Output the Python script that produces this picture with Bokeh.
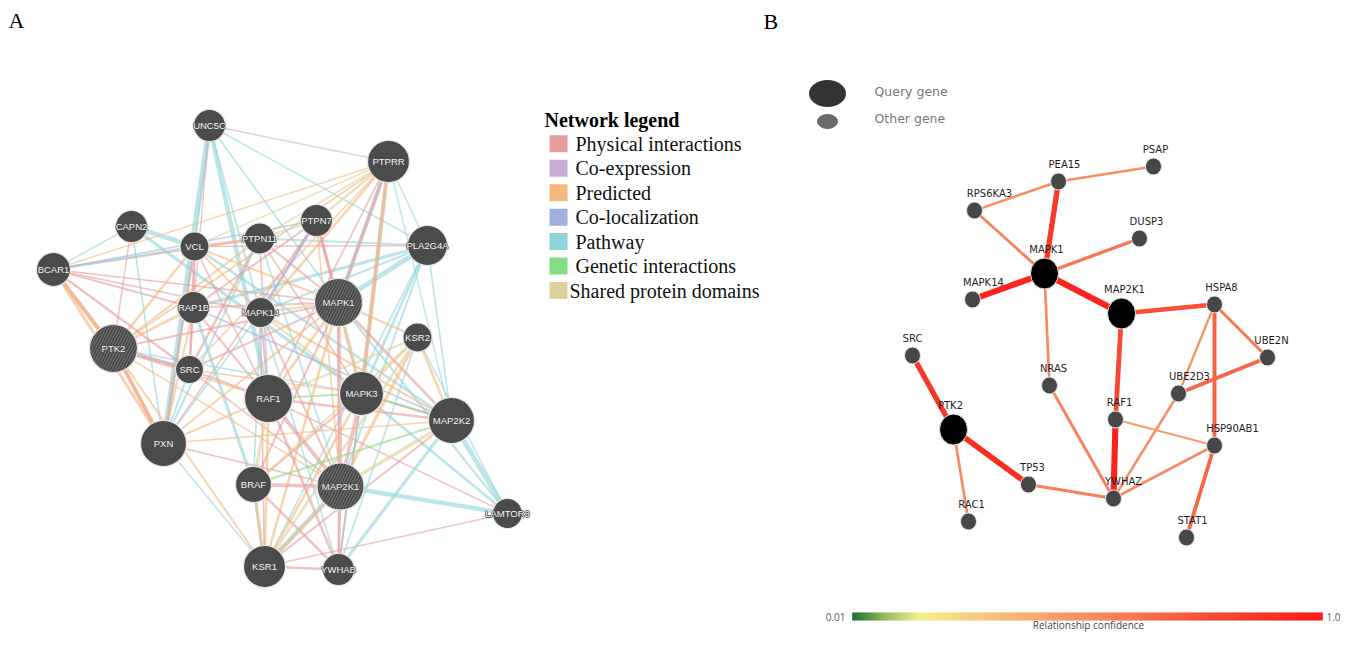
from bokeh.plotting import figure
from bokeh.models import ColumnDataSource, Range1d
from bokeh.transform import linear_cmap, factor_cmap
from bokeh.core.properties import value
from bokeh.embed import file_html
from bokeh.resources import INLINE
import numpy as np

# ---------------- Panel A data (GeneMANIA network) ----------------
a_genes = ["UNC5C", "PTPRR", "CAPN2", "VCL", "PTPN11", "PTPN7", "PLA2G4A", "BCAR1",
           "RAP1B", "MAPK14", "MAPK1", "KSR2", "PTK2", "SRC", "RAF1", "MAPK3",
           "MAP2K2", "PXN", "BRAF", "MAP2K1", "LAMTOR3", "KSR1", "YWHAB"]
a_x = [209, 388, 131, 194, 259, 316, 427, 53, 193, 260, 338, 417, 113, 189, 268, 361,
       451, 163, 253, 340, 507, 264, 338]
a_y = [125, 161, 226, 246, 238, 220, 245, 269, 307, 312, 302, 337, 348, 369, 398, 393,
       420, 443, 484, 486, 513, 566, 569]
a_r = [16, 21, 16, 14.5, 15.5, 16, 20, 17, 16, 15, 24, 14.5, 24, 14, 24, 22,
       23, 23, 18, 23.5, 15, 21, 16]
a_query = ["MAPK1", "PTK2", "MAP2K1"]

net_types = ["Physical interactions", "Co-expression", "Predicted", "Co-localization",
             "Pathway", "Genetic interactions", "Shared protein domains"]
net_colors = ["#e89c9c", "#c8aed6", "#f5b87c", "#9fb0de", "#8fd3db", "#85dc85", "#dcd19a"]
T = dict(P=net_types[0], C=net_types[1], R=net_types[2], L=net_types[3],
         W=net_types[4], G=net_types[5], S=net_types[6])

edges_a = [
    ("UNC5C", "PXN", "W", 4.5), ("UNC5C", "RAF1", "W", 3.5), ("UNC5C", "MAPK14", "W", 1.2),
    ("UNC5C", "MAPK1", "W", 1.2), ("UNC5C", "VCL", "W", 1.2), ("UNC5C", "PTPRR", "C", 1.0),
    ("UNC5C", "PLA2G4A", "W", 1.0), ("UNC5C", "RAP1B", "P", 1.0),
    ("CAPN2", "VCL", "W", 4.0), ("CAPN2", "MAPK3", "W", 2.5), ("CAPN2", "PTK2", "P", 1.0),
    ("CAPN2", "BCAR1", "W", 1.0), ("CAPN2", "PXN", "W", 1.2),
    ("PLA2G4A", "MAPK1", "W", 4.0), ("PLA2G4A", "MAPK3", "W", 2.0), ("PLA2G4A", "RAP1B", "W", 2.5),
    ("PLA2G4A", "PTPN11", "W", 1.5), ("PLA2G4A", "KSR1", "W", 1.2), ("PLA2G4A", "MAP2K1", "W", 1.5),
    ("PLA2G4A", "MAP2K2", "W", 1.2), ("PLA2G4A", "MAPK14", "W", 1.5), ("PLA2G4A", "VCL", "P", 1.0),
    ("MAP2K2", "LAMTOR3", "W", 4.0), ("MAP2K1", "LAMTOR3", "W", 3.5), ("MAPK3", "LAMTOR3", "W", 2.0),
    ("MAPK1", "LAMTOR3", "W", 1.5), ("KSR1", "LAMTOR3", "P", 1.0), ("RAF1", "LAMTOR3", "P", 1.0),
    ("YWHAB", "MAP2K2", "W", 2.5), ("YWHAB", "MAPK3", "W", 1.5),
    ("PTPRR", "MAPK1", "W", 3.0), ("PTPRR", "MAPK3", "L", 2.5), ("PTPRR", "MAPK3", "R", 3.5),
    ("PTPRR", "MAPK1", "R", 3.0), ("PTPRR", "MAPK1", "C", 2.0), ("PTPRR", "MAPK14", "R", 2.0),
    ("PTPRR", "PLA2G4A", "W", 1.0), ("PTPRR", "MAP2K2", "W", 1.0), ("PTPRR", "PTK2", "R", 1.5),
    ("PTPRR", "BCAR1", "R", 1.0), ("PTPRR", "VCL", "S", 1.0), ("PTPRR", "PTPN7", "S", 2.0),
    ("PTPRR", "PTPN11", "S", 1.5), ("PTPRR", "SRC", "R", 1.2), ("PTPRR", "RAF1", "P", 1.2),
    ("PTPN7", "MAPK1", "P", 2.5), ("PTPN7", "MAPK3", "P", 2.0), ("PTPN7", "MAPK14", "C", 2.5),
    ("PTPN7", "MAPK14", "L", 1.5), ("PTPN7", "PTPN11", "S", 1.5), ("PTPN7", "RAP1B", "P", 1.5),
    ("PTPN7", "MAP2K1", "R", 1.2), ("PTPN7", "PXN", "P", 1.2),
    ("PTPN11", "SRC", "P", 2.0), ("PTPN11", "MAPK1", "P", 1.5), ("PTPN11", "VCL", "R", 2.0),
    ("PTPN11", "PXN", "W", 1.5), ("PTPN11", "BCAR1", "P", 1.5), ("PTPN11", "RAF1", "P", 1.2),
    ("PTPN11", "MAP2K1", "W", 1.2), ("PTPN11", "MAPK3", "P", 1.2), ("PTPN11", "PTK2", "R", 1.5),
    ("BCAR1", "PTK2", "P", 3.0), ("BCAR1", "PTK2", "R", 3.0), ("BCAR1", "SRC", "P", 2.0),
    ("BCAR1", "PXN", "R", 2.5), ("BCAR1", "RAP1B", "P", 1.5), ("BCAR1", "VCL", "W", 1.5),
    ("BCAR1", "MAPK14", "P", 1.2), ("BCAR1", "MAPK1", "P", 1.2), ("BCAR1", "PTPN7", "L", 1.0),
    ("VCL", "PXN", "P", 2.0), ("VCL", "PTK2", "R", 2.0), ("VCL", "SRC", "P", 1.5),
    ("VCL", "RAP1B", "P", 1.5), ("VCL", "MAPK1", "R", 1.5), ("VCL", "MAPK14", "R", 1.5),
    ("VCL", "MAP2K2", "W", 2.0), ("VCL", "RAF1", "P", 1.2),
    ("RAP1B", "PTK2", "R", 2.0), ("RAP1B", "SRC", "P", 1.5), ("RAP1B", "RAF1", "P", 1.5),
    ("RAP1B", "BRAF", "W", 2.5), ("RAP1B", "MAPK1", "P", 1.5), ("RAP1B", "PXN", "R", 1.5),
    ("RAP1B", "MAP2K2", "L", 1.2),
    ("PTK2", "SRC", "P", 3.0), ("PTK2", "SRC", "C", 3.0), ("PTK2", "PXN", "R", 3.5),
    ("PTK2", "PXN", "P", 2.0), ("PTK2", "MAPK1", "P", 1.5), ("PTK2", "RAF1", "R", 1.5),
    ("PTK2", "MAP2K1", "R", 1.2), ("PTK2", "KSR1", "R", 1.5), ("PTK2", "MAPK3", "W", 1.2),
    ("SRC", "PXN", "W", 1.5), ("SRC", "RAF1", "P", 1.5), ("SRC", "MAPK1", "P", 1.5),
    ("SRC", "MAP2K1", "P", 1.2), ("SRC", "MAPK3", "R", 1.2),
    ("PXN", "RAF1", "R", 1.5), ("PXN", "MAPK1", "R", 1.5), ("PXN", "MAP2K1", "P", 1.2),
    ("PXN", "KSR1", "W", 1.0), ("PXN", "MAP2K2", "R", 1.2), ("PXN", "MAPK14", "W", 1.2),
    ("MAPK14", "MAPK1", "S", 2.0), ("MAPK14", "MAPK3", "S", 1.5), ("MAPK14", "RAF1", "L", 1.5),
    ("MAPK14", "MAP2K1", "P", 1.5), ("MAPK14", "MAP2K2", "R", 1.5), ("MAPK14", "YWHAB", "W", 1.2),
    ("MAPK14", "KSR1", "P", 1.2), ("MAPK14", "BRAF", "W", 1.2),
    ("MAPK1", "MAPK3", "S", 3.0), ("MAPK1", "MAP2K1", "P", 3.0), ("MAPK1", "MAP2K2", "P", 2.0),
    ("MAPK1", "RAF1", "R", 2.0), ("MAPK1", "KSR1", "R", 2.0), ("MAPK1", "KSR2", "R", 1.5),
    ("MAPK1", "BRAF", "P", 1.5), ("MAPK1", "YWHAB", "P", 1.2),
    ("MAPK3", "MAP2K1", "P", 3.0), ("MAPK3", "MAP2K2", "P", 2.0), ("MAPK3", "RAF1", "G", 1.5),
    ("MAPK3", "KSR1", "R", 2.0), ("MAPK3", "BRAF", "P", 1.5), ("MAPK3", "YWHAB", "P", 1.2),
    ("MAPK3", "KSR2", "R", 1.5),
    ("RAF1", "MAP2K1", "P", 3.0), ("RAF1", "MAP2K2", "P", 2.0), ("RAF1", "BRAF", "S", 2.5),
    ("RAF1", "YWHAB", "P", 2.0), ("RAF1", "KSR1", "R", 2.0), ("RAF1", "KSR2", "S", 1.5),
    ("BRAF", "MAP2K1", "P", 3.0), ("BRAF", "MAP2K2", "G", 1.5), ("BRAF", "YWHAB", "P", 2.0),
    ("BRAF", "KSR1", "W", 2.0), ("BRAF", "KSR1", "R", 2.5), ("BRAF", "KSR2", "S", 1.5),
    ("MAP2K1", "MAP2K2", "S", 3.0), ("MAP2K1", "KSR1", "R", 4.0), ("MAP2K1", "KSR1", "W", 2.0),
    ("MAP2K1", "YWHAB", "P", 2.0), ("MAP2K1", "KSR2", "R", 2.5),
    ("MAP2K2", "KSR1", "P", 1.5), ("MAP2K2", "KSR2", "R", 2.0), ("MAP2K2", "MAPK3", "G", 1.2),
    ("KSR1", "KSR2", "S", 2.0), ("KSR1", "YWHAB", "P", 2.0), ("KSR2", "YWHAB", "W", 1.2),
    ("KSR2", "LAMTOR3", "W", 1.0),
]

# ---------------- Panel B data (confidence network) ----------------
b_genes = ["PSAP", "PEA15", "RPS6KA3", "DUSP3", "MAPK1", "MAPK14", "MAP2K1", "HSPA8",
           "SRC", "UBE2N", "NRAS", "UBE2D3", "RAF1", "PTK2", "HSP90AB1", "TP53",
           "YWHAZ", "RAC1", "STAT1"]
b_x = [1153, 1058, 974, 1139, 1044, 972, 1121, 1214, 912, 1267, 1049, 1178, 1115, 953,
       1214, 1028, 1113, 968, 1186]
b_y = [166, 181, 210, 238, 273, 299, 313, 304, 355, 357, 385, 393, 419, 429, 445, 484,
       498, 521, 537]
b_label_dx = [2, 6, 15, 7, 2, 11, 3, 7, 0, 4, 4, 11, 4, -3, 18, 4, 10, 3, 6]
b_query = ["MAPK1", "MAP2K1", "PTK2"]

edges_b = [
    ("PEA15", "PSAP", 0.50), ("RPS6KA3", "PEA15", 0.50), ("RPS6KA3", "MAPK1", 0.55),
    ("PEA15", "MAPK1", 0.85), ("MAPK1", "DUSP3", 0.60), ("MAPK1", "MAPK14", 0.95),
    ("MAPK1", "MAP2K1", 0.95), ("MAPK1", "NRAS", 0.52), ("MAP2K1", "HSPA8", 0.75),
    ("MAP2K1", "RAF1", 0.78), ("HSPA8", "UBE2N", 0.58), ("HSPA8", "UBE2D3", 0.48),
    ("HSPA8", "HSP90AB1", 0.68), ("UBE2N", "UBE2D3", 0.66), ("UBE2D3", "YWHAZ", 0.50),
    ("RAF1", "HSP90AB1", 0.45), ("RAF1", "YWHAZ", 0.95), ("NRAS", "YWHAZ", 0.55),
    ("HSP90AB1", "YWHAZ", 0.52), ("HSP90AB1", "STAT1", 0.66), ("SRC", "PTK2", 0.86),
    ("PTK2", "TP53", 0.90), ("PTK2", "RAC1", 0.52), ("TP53", "YWHAZ", 0.56),
]

conf_low, conf_high = 0.01, 1.0
conf_stops = [(0.0, "#1d6e2e"), (0.06, "#8db65a"), (0.14, "#f4f18c"), (0.32, "#f8b878"),
              (0.55, "#f8815a"), (0.8, "#f7432f"), (1.0, "#ff1a1a")]


def _hex(c):
    return [int(c[i:i + 2], 16) for i in (1, 3, 5)]


def _interp(t):
    for (t0, c0), (t1, c1) in zip(conf_stops[:-1], conf_stops[1:]):
        if t0 <= t <= t1:
            f = (t - t0) / (t1 - t0)
            a, b = _hex(c0), _hex(c1)
            return "#%02x%02x%02x" % tuple(int(round(a[k] + (b[k] - a[k]) * f)) for k in range(3))
    return conf_stops[-1][1]


conf_palette = [_interp(i / 255) for i in range(256)]

# ---------------- Figure ----------------
p = figure(width=1344, height=632, x_range=Range1d(0, 1344), y_range=Range1d(632, 0),
           x_axis_location=None, y_axis_location=None, toolbar_location=None,
           output_backend="svg", min_border=0, outline_line_color=None)
p.grid.grid_line_color = None
p.background_fill_color = "white"

serif = value("Liberation Serif")
sans = value("Liberation Sans")

# Panel letters
p.text(x=[8, 763], y=[20, 21], text=["A", "B"], text_font=serif, text_font_size="22px",
       text_color="black", text_align="left", text_baseline="middle")

# ---- Panel A edges
ia = {g: i for i, g in enumerate(a_genes)}
src_a = ColumnDataSource(dict(
    x0=[a_x[ia[s]] for s, t, k, w in edges_a], y0=[a_y[ia[s]] for s, t, k, w in edges_a],
    x1=[a_x[ia[t]] for s, t, k, w in edges_a], y1=[a_y[ia[t]] for s, t, k, w in edges_a],
    etype=[T[k] for s, t, k, w in edges_a], w=[w * 1.15 + 0.3 for s, t, k, w in edges_a]))
p.segment(x0="x0", y0="y0", x1="x1", y1="y1", source=src_a, line_width="w", line_alpha=0.6,
          line_color=factor_cmap("etype", net_colors, net_types))

# ---- Panel A nodes
node_a = ColumnDataSource(dict(x=a_x, y=a_y, r=a_r, g=a_genes))
p.circle(x="x", y="y", radius="r", source=node_a, fill_color="#4b4b4b",
         line_color="#e6e6e6", line_width=1.2)
qa = [ia[g] for g in a_query]
p.circle(x=[a_x[i] for i in qa], y=[a_y[i] for i in qa], radius=[a_r[i] for i in qa],
         fill_color="#4b4b4b", line_color="#e6e6e6", line_width=1.2,
         hatch_pattern="/", hatch_color="#7a7a7a", hatch_scale=6, hatch_weight=1, hatch_alpha=0.8)
# dark halo behind the white node labels
for dx, dy in [(-0.8, 0), (0.8, 0), (0, -0.8), (0, 0.8)]:
    p.text(x=[x + dx for x in a_x], y=[y + dy for y in a_y], text=a_genes, text_font=sans,
           text_font_size="9.5px", text_color="#4a4a4a", text_align="center",
           text_baseline="middle")
p.text(x="x", y="y", text="g", source=node_a, text_font=sans, text_font_size="9.5px",
       text_color="#f4f4f4", text_align="center", text_baseline="middle")

# ---- Panel A legend
leg_y0, leg_dy = 143.3, 24.45
leg_y = [leg_y0 + leg_dy * i for i in range(len(net_types))]
p.text(x=[544], y=[119], text=["Network legend"], text_font=serif, text_font_size="20px",
       text_font_style="bold", text_color="black", text_align="left", text_baseline="middle")
p.rect(x=[558] * len(net_types), y=leg_y, width=18, height=17, fill_color=net_colors,
       line_color=None)
p.text(x=[575] * 6 + [569], y=leg_y, text=net_types, text_font=serif, text_font_size="20px",
       text_color="#111111", text_align="left", text_baseline="middle")

# ---- Panel B edges
ib = {g: i for i, g in enumerate(b_genes)}
conf = [c for s, t, c in edges_b]
src_b = ColumnDataSource(dict(
    x0=[b_x[ib[s]] for s, t, c in edges_b], y0=[b_y[ib[s]] for s, t, c in edges_b],
    x1=[b_x[ib[t]] for s, t, c in edges_b], y1=[b_y[ib[t]] for s, t, c in edges_b],
    conf=conf, w=[8.0 * c - 1.5 for c in conf]))
p.segment(x0="x0", y0="y0", x1="x1", y1="y1", source=src_b, line_width="w",
          line_color=linear_cmap("conf", conf_palette, conf_low, conf_high))

# ---- Panel B nodes
is_q = [g in b_query for g in b_genes]
node_b = ColumnDataSource(dict(
    x=b_x, y=b_y, g=b_genes,
    w=[28 if q else 16 for q in is_q], h=[31 if q else 17 for q in is_q],
    c=["#000000" if q else "#474747" for q in is_q],
    lx=[x + d for x, d in zip(b_x, b_label_dx)],
    ly=[y - (24 if q else 17.5) for y, q in zip(b_y, is_q)]))
p.ellipse(x="x", y="y", width="w", height="h", source=node_b, fill_color="c",
          line_color="#e8e8e8", line_width=1)
p.text(x="lx", y="ly", text="g", source=node_b, text_font=value("DejaVu Sans"),
       text_font_size="10px", text_color="#1e1e1e", text_align="center", text_baseline="middle")

# ---- Panel B legend
p.ellipse(x=[827, 827], y=[93, 121], width=[37, 21], height=[27, 15],
          fill_color=["#333333", "#6a6a6a"], line_color=None)
p.text(x=[874, 874], y=[91, 118], text=["Query gene", "Other gene"],
       text_font=value("DejaVu Sans"), text_font_size="12.5px", text_color="#777777",
       text_align="left", text_baseline="middle")

# ---- Colour scale bar
cb_left, cb_right, cb_y = 852, 1322, 616
cb_vals = np.linspace(conf_low, conf_high, 240)
cb_step = (cb_right - cb_left) / len(cb_vals)
cb_src = ColumnDataSource(dict(
    x=[cb_left + (v - conf_low) / (conf_high - conf_low) * (cb_right - cb_left - cb_step) + cb_step / 2
       for v in cb_vals], v=cb_vals))
p.rect(x="x", y=cb_y, width=cb_step + 0.6, height=8, source=cb_src, line_color=None,
       fill_color=linear_cmap("v", conf_palette, conf_low, conf_high))
p.text(x=[845, 1326], y=[cb_y, cb_y], text=["0.01", "1.0"], text_font=value("Open Sans"),
       text_font_size="10px", text_color="#555555", text_align=["right", "left"],
       text_baseline="middle")
p.text(x=[1088], y=[624], text=["Relationship confidence"], text_font=value("Open Sans"),
       text_font_size="10px", text_color="#444444", text_align="center", text_baseline="middle")

open("out.html", "w").write(file_html(p, INLINE))
